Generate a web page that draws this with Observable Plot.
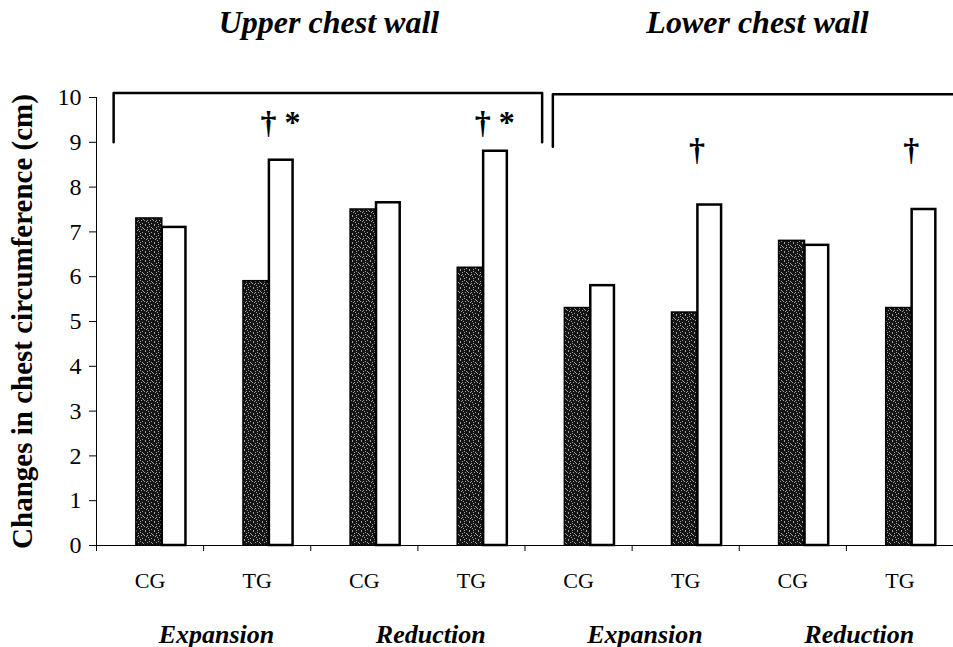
<!DOCTYPE html>
<html>
<head>
<meta charset="utf-8">
<script src="https://cdn.jsdelivr.net/npm/d3@7"></script>
<script src="https://cdn.jsdelivr.net/npm/@observablehq/plot@0.6"></script>
<style>
  html, body { margin: 0; padding: 0; background: #fff; }
  #chart svg { display: block; }
</style>
</head>
<body>
<div id="chart"></div>
<script>
// ---- data ----
const regions = ["Upper chest wall", "Lower chest wall"];
const phases = ["Expansion", "Reduction", "Expansion", "Reduction"];
const groups = ["CG", "TG", "CG", "TG", "CG", "TG", "CG", "TG"];
const darkValues = [7.3, 5.9, 7.5, 6.2, 5.3, 5.2, 6.8, 5.3];
const whiteValues = [7.1, 8.6, 7.65, 8.8, 5.8, 7.6, 6.7, 7.5];
const sigMarks = ["", "\u2020 *", "", "\u2020 *", "", "\u2020", "", "\u2020"];
const yTicks = [0, 1, 2, 3, 4, 5, 6, 7, 8, 9, 10];

// ---- derived tables ----
const serif = "'Liberation Serif', 'Times New Roman', serif";
const idx = d3.range(groups.length);
const darkBars = idx.map(i => ({i, v: darkValues[i]}));
const whiteBars = idx.map(i => ({i, v: whiteValues[i]}));
const sig = idx.filter(i => sigMarks[i]).map(i => ({i, label: sigMarks[i], region: i < 4 ? 0 : 1}));
const sigY = [9.44, 8.83];
const brackets = [
  [{x: 0.16, y: 9.0}, {x: 0.16, y: 10.1}, {x: 4.16, y: 10.1}, {x: 4.16, y: 9.0}],
  [{x: 4.26, y: 8.9}, {x: 4.26, y: 10.07}, {x: 8.2, y: 10.07}]
];

const chart = Plot.plot({
  width: 953,
  height: 647,
  marginLeft: 96,
  marginRight: 0,
  marginTop: 97,
  marginBottom: 102,
  style: {fontFamily: serif, fontSize: "19px", color: "#000", background: "#fff", overflow: "visible"},
  x: {domain: [0, 8], ticks: d3.range(9), tickFormat: () => "", tickSize: 6, line: true, label: null},
  y: {domain: [0, 10], ticks: yTicks, tickFormat: () => "", tickSize: 7, line: true, label: null},
  marks: [
    Plot.rectY(darkBars, {x1: d => d.i + 0.372, x2: d => d.i + 0.614, y: "v", fill: "url(#stip)", stroke: "#000", strokeWidth: 1.5}),
    Plot.rectY(whiteBars, {x1: d => d.i + 0.614, x2: d => d.i + 0.835, y: "v", fill: "#fff", stroke: "#000", strokeWidth: 2.5}),
    ...brackets.map(b => Plot.line(b, {x: "x", y: "y", stroke: "#000", strokeWidth: 2.5, clip: false})),
    Plot.text(yTicks, {x: () => 0, y: d => d, dx: -15, text: d => String(d), textAnchor: "end", fontSize: 24, fontFamily: serif}),
    Plot.text(sig, {x: d => d.i + 0.53, y: d => sigY[d.region], text: "label", textAnchor: "start", fontSize: 32, fontWeight: "bold", fontFamily: serif}),
    Plot.text(groups, {x: (d, i) => i + 0.5, y: () => 0, dy: 35, text: d => d, fontSize: 22, fontFamily: serif}),
    Plot.text(phases, {x: (d, i) => 2 * i + 1.12, y: () => 0, dy: 89, text: d => d, fontSize: 26, fontWeight: "bold", fontStyle: "italic", fontFamily: serif}),
    Plot.text(regions, {x: (d, i) => 4 * i + 2.17, y: () => 10, dy: -75, text: d => d, fontSize: 32, fontWeight: "bold", fontStyle: "italic", fontFamily: serif}),
    Plot.text(["Changes in chest circumference (cm)"], {frameAnchor: "left", dx: -74, rotate: -90, textAnchor: "middle", text: d => d, fontSize: 29, fontWeight: "bold", fontFamily: serif})
  ]
});

// stipple pattern for dark bars
const ns = "http://www.w3.org/2000/svg";
const defs = document.createElementNS(ns, "defs");
const pat = document.createElementNS(ns, "pattern");
pat.setAttribute("id", "stip");
pat.setAttribute("patternUnits", "userSpaceOnUse");
pat.setAttribute("width", 9);
pat.setAttribute("height", 9);
const bg = document.createElementNS(ns, "rect");
bg.setAttribute("width", 9); bg.setAttribute("height", 9); bg.setAttribute("fill", "#141414");
pat.appendChild(bg);
const dots = [[1,0],[5,1],[3,2],[8,3],[0,4],[6,4],[2,5],[4,6],[7,7],[1,8],[5,8],[3,4],[7,2]];
for (const [dx, dy] of dots) {
  const r = document.createElementNS(ns, "rect");
  r.setAttribute("x", dx); r.setAttribute("y", dy);
  r.setAttribute("width", 1); r.setAttribute("height", 1);
  r.setAttribute("fill", "#a0a0a0");
  pat.appendChild(r);
}
defs.appendChild(pat);
chart.insertBefore(defs, chart.firstChild);

document.getElementById("chart").appendChild(chart);
</script>
</body>
</html>
